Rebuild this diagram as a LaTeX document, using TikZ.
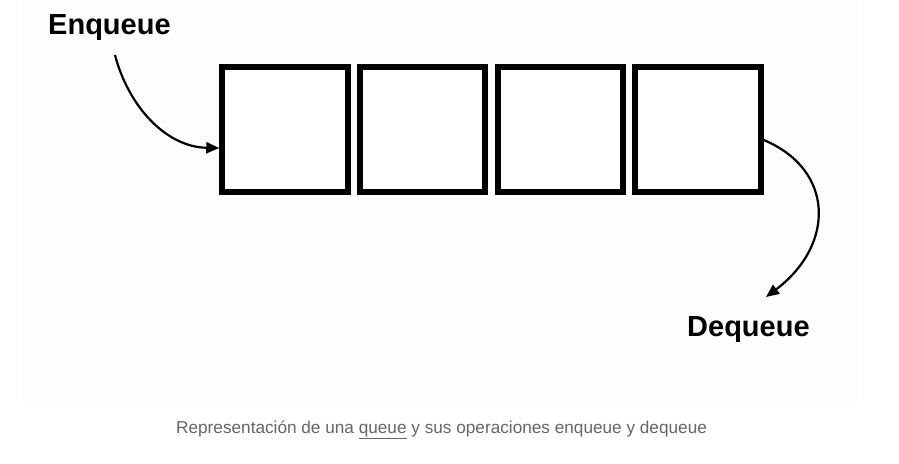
\documentclass[tikz,border=0pt]{standalone}
\usepackage{fontspec}
\setmainfont{Liberation Sans}
\usetikzlibrary{arrows.meta}
\definecolor{paper}{HTML}{FDFDFD}
\definecolor{captiongray}{HTML}{666666}
\tikzset{
  cell/.style={draw=black, line width=6pt, minimum size=125.5pt, inner sep=0pt, fill=white},
  oplabel/.style={font=\fontsize{29}{32}\selectfont\bfseries, inner sep=0pt, anchor=base west},
  arr/.style={line width=2.2pt, -{Triangle[length=13pt,width=11pt]}},
  captionstyle/.style={font=\fontsize{17.2}{20}\selectfont, text=captiongray, inner sep=0pt, anchor=base west}
}
\begin{document}
\begin{tikzpicture}[x=1pt,y=-1pt]
\useasboundingbox (0,0) rectangle (899,463);
\fill[white] (0,0) rectangle (899,463);
\fill[paper] (21,0) rectangle (859,402);
\node[cell] (b1) at (285,129.5) {};
\node[cell] (b2) at (422.5,129.5) {};
\node[cell] (b3) at (560.5,129.5) {};
\node[cell] (b4) at (698,129.5) {};
\node[oplabel] (enq) at (48,34) {Enqueue};
\node[oplabel] (deq) at (687,336) {Dequeue};
\coordinate (enqs) at (115,55);
\draw[arr] (enqs) .. controls (128,105) and (165,147) .. ([yshift=-18.5pt]b1.west);
\draw[arr] ([yshift=-10.5pt]b4.east) .. controls (835,170) and (835,245) .. (766,297);
\node[captionstyle] (cap) at (176,433) {Representación de una \underline{queue} y sus operaciones enqueue y dequeue};
\end{tikzpicture}
\end{document}
